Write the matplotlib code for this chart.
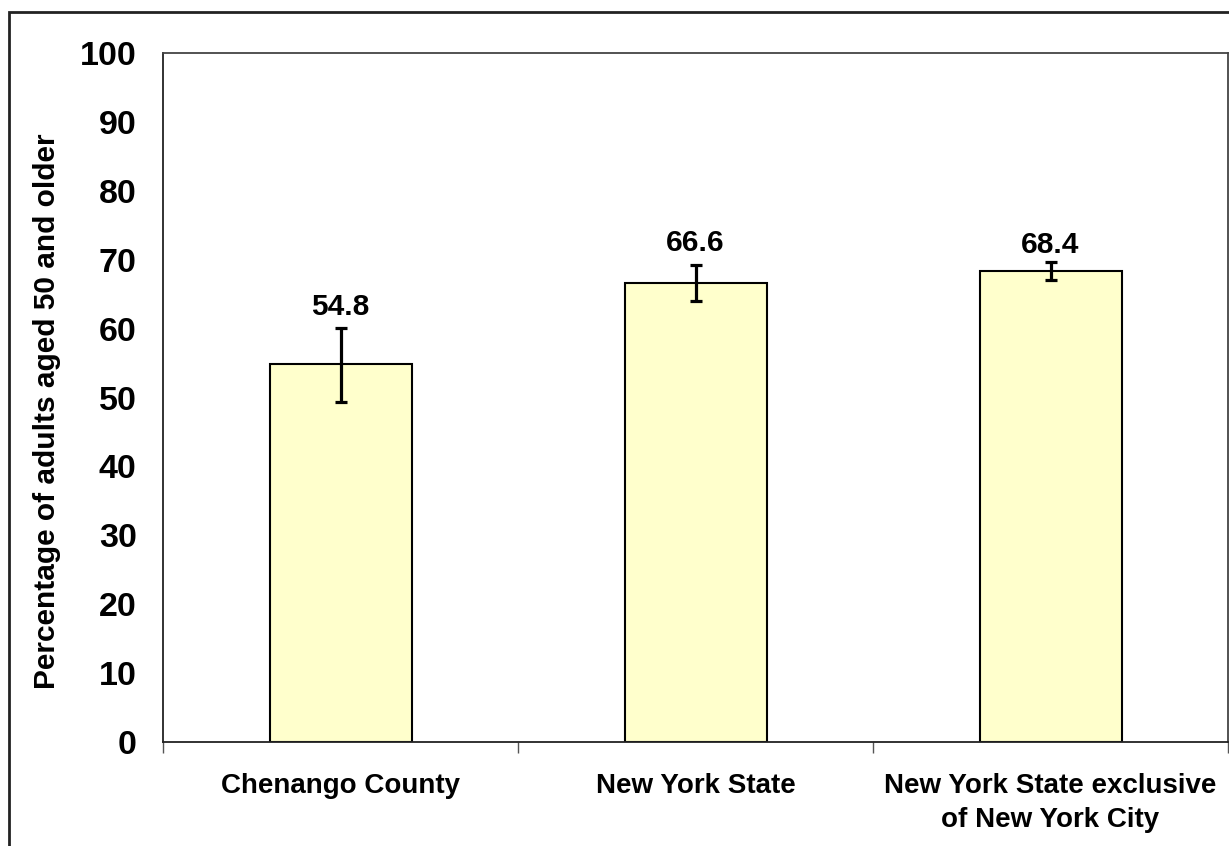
import matplotlib
matplotlib.use("Agg")
import matplotlib.pyplot as plt
from matplotlib.patches import Rectangle

categories = ["Chenango County", "New York State", "New York State exclusive\nof New York City"]
values = [54.8, 66.6, 68.4]
err_low = [5.4, 2.6, 1.3]
err_high = [5.3, 2.6, 1.3]
yticks = [0, 10, 20, 30, 40, 50, 60, 70, 80, 90, 100]
ylabel = "Percentage of adults aged 50 and older"

plt.rcParams['font.family'] = ['Liberation Sans', 'DejaVu Sans']

W, H = 1229, 846
fig = plt.figure(figsize=(W / 100, H / 100), dpi=100)
ax = fig.add_axes([163 / W, 1 - 742 / H, (1228 - 163) / W, (742 - 53) / H])

x = list(range(len(categories)))
ax.bar(x, values, width=0.40, color="#FFFFCC", edgecolor="black", linewidth=1.5, zorder=2)
ax.errorbar(x, values, yerr=[err_low, err_high], fmt="none", ecolor="black",
            elinewidth=2.3, capsize=4.5, capthick=2.3, zorder=3)
label_offsets = [3.0, 3.2, 2.4]
for xi, v, eh, off in zip(x, values, err_high, label_offsets):
    ax.text(xi, v + eh + off, f"{v:.1f}", ha="center", va="center",
            fontsize=21.5, fontweight="bold")

ax.set_xlim(-0.5, len(categories) - 0.5)
ax.set_ylim(0, 100)
ax.set_yticks(yticks)
ax.set_yticklabels([str(t) for t in yticks], fontsize=24.5, fontweight="bold")
ax.tick_params(axis="y", length=0, pad=19)
ax.set_xticks([-0.5, 0.5, 1.5, 2.5])
ax.set_xticklabels([])
ax.tick_params(axis="x", which="major", length=8, width=1, color="#555555", direction="out")
ax.set_xticks(x, minor=True)
ax.set_xticklabels(categories, minor=True, fontsize=20, fontweight="bold", linespacing=1.4)
ax.tick_params(axis="x", which="minor", length=0, pad=22)

for s in ["left", "bottom"]:
    ax.spines[s].set_color("#222222")
    ax.spines[s].set_linewidth(1.3)
for s in ["top", "right"]:
    ax.spines[s].set_color("#444444")
    ax.spines[s].set_linewidth(1.3)

fig.text(47 / W, 1 - 411 / H, ylabel, rotation=90, ha="center", va="center",
         fontsize=21.5, fontweight="bold")

fig.patches.append(Rectangle((9 / W, -0.1), 1.2, 1 - 12 / H + 0.1, transform=fig.transFigure,
                             fill=False, edgecolor="#222222", linewidth=2, zorder=0))

fig.savefig("out.png", dpi=100)
